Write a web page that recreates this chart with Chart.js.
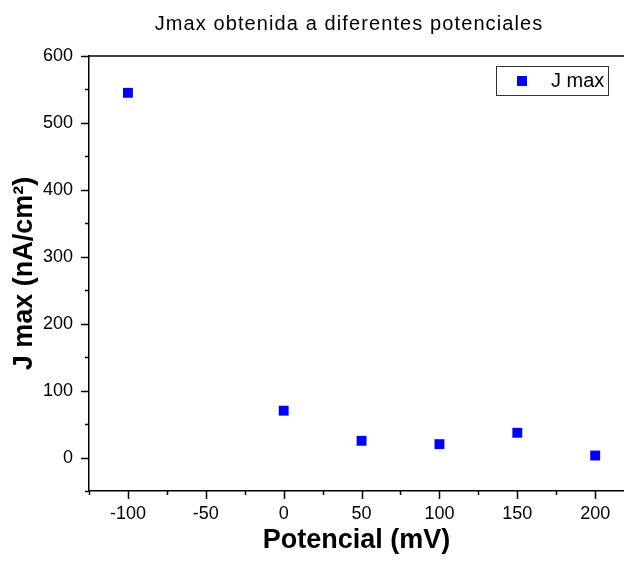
<!DOCTYPE html>
<html>
<head>
<meta charset="utf-8">
<script src="https://cdn.jsdelivr.net/npm/chart.js@4.4.1/dist/chart.umd.min.js"></script>
<style>
    html, body { margin: 0; padding: 0; background: #fff; }
    canvas { display: block; }
</style>
</head>
<body>
<canvas id="jmaxChart" width="624" height="565"></canvas>
<script>
// data
const potentials = [-100, 0, 50, 100, 150, 200];
const jMaxValues = [545, 70, 25, 20, 37, 3];
const seriesLabel = "J max";
const chartTitle = "Jmax obtenida a diferentes potenciales";
const xTitle = "Potencial (mV)";
const yTitle = "J max (nA/cm\u00B2)";

const FONT = "'Liberation Sans', Arial, sans-serif";

/**
 * Draws the outward tick marks (long for labelled ticks, short otherwise),
 * the top frame line, the title and the boxed legend.
 */
const originPlugin = {
    id: "originStyle",
    afterDraw(chart) {
        const ctx = chart.ctx;
        const area = chart.chartArea;
        const xs = chart.scales.x, ys = chart.scales.y;
        ctx.save();
        ctx.strokeStyle = "#000";
        ctx.lineWidth = 1.5;
        ctx.beginPath();
        xs.ticks.forEach(t => {
            const px = Math.round(xs.getPixelForValue(t.value)) + 0.5;
            const len = t.label !== "" ? 8 : 4;
            ctx.moveTo(px, area.bottom);
            ctx.lineTo(px, area.bottom + len);
        });
        ys.ticks.forEach(t => {
            const py = Math.round(ys.getPixelForValue(t.value)) + 0.5;
            const len = t.label !== "" ? 8 : 4;
            ctx.moveTo(area.left, py);
            ctx.lineTo(area.left - len, py);
        });
        // top frame line
        ctx.moveTo(area.left, area.top);
        ctx.lineTo(area.right, area.top);
        ctx.stroke();

        // title
        ctx.fillStyle = "#000";
        ctx.font = "20px " + FONT;
        ctx.letterSpacing = "1.1px";
        ctx.textAlign = "center";
        ctx.textBaseline = "middle";
        ctx.fillText(chartTitle, 349, 24);
        ctx.letterSpacing = "0px";

        // legend box
        const ds = chart.data.datasets[0];
        ctx.lineWidth = 1;
        ctx.strokeStyle = "#333";
        ctx.strokeRect(496.5, 66.5, 112, 29);
        ctx.fillStyle = ds.backgroundColor;
        ctx.fillRect(517, 76, 10, 10);
        ctx.fillStyle = "#000";
        ctx.textAlign = "left";
        ctx.font = "20px " + FONT;
        ctx.fillText(ds.label, 551, 81);
        ctx.restore();
    }
};

const chart = new Chart(document.getElementById("jmaxChart"), {
    type: "scatter",
    data: {
        datasets: [{
            label: seriesLabel,
            data: potentials.map((p, i) => ({x: p, y: jMaxValues[i]})),
            backgroundColor: "#0000ff",
            borderColor: "#0000ff",
            borderWidth: 0,
            pointStyle: "rect",
            pointRadius: 7,
            pointHoverRadius: 7
        }]
    },
    options: {
        responsive: false,
        animation: false,
        layout: {autoPadding: false, padding: {top: 56, right: 0, left: 0, bottom: 0}},
        plugins: {
            legend: {display: false},
            title: {display: false},
            tooltip: {enabled: false}
        },
        scales: {
            x: {
                type: "linear",
                min: -125,
                max: 218.5,
                afterFit: scale => {
                    scale.height = 74;
                    scale.paddingLeft = 0;
                    scale.paddingRight = 0;
                },
                grid: {display: false, drawTicks: false},
                border: {display: true, color: "#000", width: 1.5},
                ticks: {
                    stepSize: 25,
                    includeBounds: false,
                    autoSkip: false,
                    maxRotation: 0,
                    padding: 12,
                    color: "#000",
                    font: {family: FONT, size: 18},
                    callback: v => (v % 50 === 0 ? v : "")
                },
                title: {
                    display: true,
                    text: xTitle,
                    color: "#000",
                    font: {family: FONT, size: 27, weight: "bold"},
                    padding: {top: 0, bottom: 8}
                }
            },
            y: {
                type: "linear",
                min: -50,
                max: 600,
                afterFit: scale => {
                    scale.width = 89;
                    scale.paddingTop = 0;
                    scale.paddingBottom = 0;
                },
                grid: {display: false, drawTicks: false},
                border: {display: true, color: "#000", width: 1.5},
                ticks: {
                    stepSize: 50,
                    includeBounds: false,
                    autoSkip: false,
                    padding: 16,
                    color: "#000",
                    font: {family: FONT, size: 18},
                    callback: v => (v % 100 === 0 ? v : "")
                },
                title: {
                    display: true,
                    text: yTitle,
                    color: "#000",
                    font: {family: FONT, size: 27, weight: "bold"},
                    padding: {top: 8, bottom: 0}
                }
            }
        }
    },
    plugins: [originPlugin]
});
</script>
</body>
</html>
